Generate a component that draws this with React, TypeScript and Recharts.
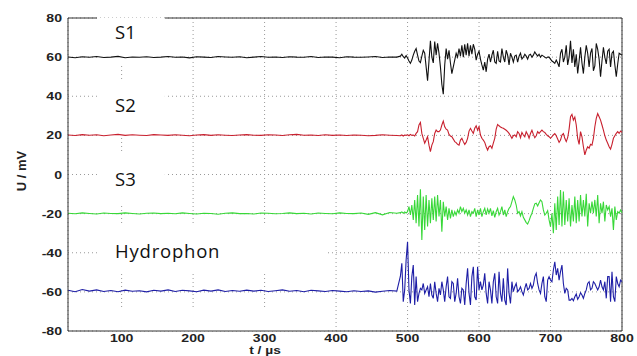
import {
  CartesianGrid,
  Line,
  LineChart,
  ReferenceArea,
  ReferenceLine,
  XAxis,
  YAxis,
} from "recharts";

// sampling grid: coarse before the onset, fine after it
const quietStart = 25;
const quietStep = 10;
const activeStart = 490;
const activeStep = 2;

const s1Quiet = [
  60.1, 59.7, 60.2, 59.9, 60.3, 59.8, 60.0, 60.4, 59.7, 60.1,
  59.9, 60.2, 59.8, 60.0, 60.3, 59.9, 60.1, 59.6, 60.2, 60.0,
  59.8, 60.3, 60.1, 59.9, 60.2, 59.7, 60.0, 60.3, 59.9, 60.1,
  59.8, 60.2, 60.0, 59.9, 60.3, 59.8, 60.1, 60.0, 59.7, 60.2,
  60.0, 59.9, 60.1, 60.3, 59.8, 60.1, 60.0,
];
const s2Quiet = [
  20.2, 19.9, 20.4, 20.1, 20.3, 19.8, 20.2, 20.5, 20.0, 20.3,
  20.1, 19.9, 20.4, 20.2, 20.0, 20.3, 20.1, 19.8, 20.2, 20.4,
  20.0, 20.3, 20.1, 19.9, 20.2, 20.4, 20.1, 20.0, 20.3, 20.2,
  19.9, 20.3, 20.5, 20.1, 20.2, 19.9, 20.3, 20.0, 20.2, 19.9,
  20.2, 20.1, 19.8, 20.0, 20.3, 20.1, 19.9,
];
const s3Quiet = [
  -19.8, -20.1, -19.6, -19.9, -20.2, -19.7, -19.9, -20.0, -19.6, -19.9,
  -20.2, -19.8, -19.7, -20.0, -19.8, -20.1, -19.6, -19.9, -20.2, -19.8,
  -19.9, -20.3, -19.8, -19.6, -20.0, -19.9, -20.2, -19.7, -19.8, -20.1,
  -19.9, -19.6, -20.0, -19.8, -20.2, -19.7, -19.9, -20.1, -19.6, -19.9,
  -20.0, -19.7, -20.4, -19.5, -20.6, -19.4, -19.8,
];
const hQuiet = [
  -59.2, -59.9, -58.8, -59.6, -59.0, -59.8, -59.3, -59.9, -59.1, -59.7,
  -59.4, -60.0, -59.2, -59.6, -59.0, -59.8, -59.2, -59.5, -59.9, -59.1,
  -59.6, -59.0, -59.8, -59.3, -59.7, -59.1, -59.6, -59.2, -59.8, -59.4,
  -59.0, -59.7, -59.3, -59.9, -59.2, -59.5, -59.8, -59.3, -59.6, -59.9,
  -59.4, -59.8, -59.5, -60.1, -59.7, -59.3, -59.6,
];

const s1Active = [
  60.5, 61.5, 60.2, 59.5, 60.8,
  59.5, 58.0, 56.8, 58.5, 61.0,
  63.0, 64.4, 61.0, 58.0, 57.2,
  60.5, 63.5, 62.0, 55.0, 48.0,
  58.0, 68.3, 60.0, 57.0, 68.0,
  61.0, 67.0, 62.0, 55.0, 46.0,
  41.0, 56.0, 64.4, 59.0, 63.5,
  57.0, 51.6, 55.0, 58.5, 62.0,
  60.0, 64.4, 60.5, 66.0, 60.0,
  66.6, 61.0, 67.0, 60.5, 66.0,
  61.5, 66.6, 64.0, 58.5, 61.5,
  63.0, 59.0, 56.0, 53.4, 57.5,
  52.5, 59.0, 61.5, 57.5, 61.0,
  63.5, 57.5, 56.8, 63.0, 58.0,
  57.5, 64.4, 60.0, 57.5, 63.5,
  61.0, 56.0, 62.0, 60.0, 57.5,
  60.5, 61.0, 57.5, 60.5, 62.0,
  59.0, 60.0, 61.5, 60.5, 59.0,
  61.0, 61.5, 60.0, 61.0, 62.7,
  61.5, 60.5, 61.5, 60.0, 61.0,
  60.5, 60.0, 59.5, 60.0, 60.0,
  59.0, 58.0, 57.5, 56.8, 58.5,
  57.0, 55.0, 62.0, 64.0, 57.5,
  60.0, 66.0, 56.0, 60.0, 68.3,
  57.0, 64.0, 55.0, 61.5, 51.6,
  58.0, 65.0, 57.0, 51.6, 60.0,
  66.0, 62.0, 55.0, 62.0, 64.4,
  53.0, 55.5, 67.0, 64.0, 59.0,
  50.0, 58.0, 65.0, 60.0, 56.5,
  63.0, 64.0, 55.0, 62.0, 63.0,
  56.0, 50.0, 56.5, 62.0, 61.5,
  61.0,
];
const s2Active = [
  19.8, 20.2, 19.7, 20.2, 20.0,
  20.3, 19.8, 20.5, 20.0, 20.2,
  19.7, 21.0, 21.9, 25.3, 26.6,
  21.0, 18.5, 16.0, 17.6, 19.3,
  15.0, 11.7, 15.0, 16.8, 21.0,
  22.7, 21.9, 21.9, 22.7, 25.3,
  27.3, 24.4, 23.2, 22.7, 20.5,
  19.7, 19.3, 18.1, 16.8, 16.3,
  15.4, 15.0, 17.6, 18.5, 16.8,
  15.4, 16.4, 18.5, 22.2, 23.6,
  22.2, 21.0, 23.6, 24.9, 22.7,
  24.4, 20.2, 18.5, 17.6, 16.4,
  14.2, 12.5, 14.2, 14.7, 13.4,
  16.0, 18.5, 23.2, 25.6, 24.9,
  24.3, 23.9, 23.6, 23.1, 22.6,
  21.9, 21.0, 19.8, 18.5, 19.8,
  20.2, 19.3, 21.9, 21.0, 18.8,
  21.5, 20.2, 19.3, 21.9, 20.5,
  18.5, 21.0, 22.6, 20.5, 18.8,
  19.8, 21.9, 21.0, 21.9, 22.7,
  21.9, 21.5, 20.5, 19.8, 19.3,
  18.5, 19.3, 20.2, 20.9, 19.8,
  18.1, 16.4, 17.6, 20.2, 20.9,
  18.5, 16.8, 18.8, 23.2, 29.5,
  30.7, 27.8, 29.4, 25.3, 18.5,
  15.4, 21.9, 19.3, 14.2, 10.0,
  12.5, 14.2, 13.4, 15.4, 15.0,
  18.5, 24.4, 28.7, 31.1, 29.5,
  27.8, 25.3, 22.7, 19.8, 17.6,
  16.0, 14.2, 13.0, 15.4, 18.5,
  19.8, 21.0, 21.9, 21.0, 22.2,
  21.5,
];
const s3Active = [
  -19.5, -19.1, -19.8, -19.1, -19.7,
  -19.0, -16.4, -20.7, -15.6, -23.2,
  -13.0, -24.9, -10.5, -26.6, -7.6,
  -33.5, -11.3, -28.3, -10.5, -26.6,
  -13.0, -24.9, -12.2, -23.2, -11.3,
  -24.0, -10.5, -21.5, -13.0, -29.2,
  -13.9, -21.5, -16.4, -23.2, -17.3,
  -22.4, -18.1, -21.5, -19.0, -20.7,
  -18.1, -19.8, -16.4, -19.0, -17.3,
  -19.8, -18.1, -20.7, -18.1, -21.5,
  -19.0, -19.8, -17.3, -21.5, -18.1,
  -20.7, -17.3, -21.5, -19.0, -17.3,
  -20.7, -17.6, -19.8, -17.3, -21.2,
  -18.5, -21.9, -19.0, -17.3, -20.7,
  -19.0, -16.4, -20.7, -18.1, -21.5,
  -19.0, -17.3, -16.4, -13.9, -11.3,
  -13.0, -15.6, -19.8, -19.0, -21.2,
  -19.0, -21.9, -23.2, -24.6, -25.3,
  -23.6, -21.5, -19.8, -17.3, -15.0,
  -14.7, -16.1, -14.4, -13.0, -13.9,
  -18.1, -20.7, -19.8, -18.5, -23.2,
  -26.6, -19.8, -30.0, -14.7, -28.3,
  -11.3, -25.8, -7.9, -26.6, -8.7,
  -25.8, -13.0, -24.0, -12.2, -26.6,
  -15.6, -24.0, -11.3, -24.9, -13.0,
  -24.0, -10.5, -21.5, -13.0, -21.5,
  -9.9, -26.6, -14.7, -19.8, -13.9,
  -19.8, -13.0, -21.5, -10.5, -24.9,
  -14.7, -19.8, -13.9, -24.0, -15.6,
  -18.1, -16.4, -21.5, -17.3, -28.3,
  -16.4, -23.2, -19.0, -19.8, -18.1,
  -19.5,
];
const hActive = [
  -52.0, -45.4, -65.0, -59.0, -43.7,
  -34.4, -59.0, -65.9, -52.2, -46.3,
  -66.7, -52.2, -65.0, -60.8, -58.2,
  -59.0, -55.7, -60.8, -59.0, -57.4,
  -62.5, -55.7, -61.6, -63.3, -54.8,
  -60.8, -65.0, -58.2, -61.6, -54.8,
  -59.0, -65.0, -57.4, -52.2, -62.5,
  -63.3, -54.8, -55.7, -65.0, -60.8,
  -53.1, -62.5, -65.9, -58.2, -59.0,
  -66.7, -55.7, -48.0, -60.8, -66.7,
  -52.2, -47.2, -62.5, -64.2, -47.2,
  -59.0, -54.8, -59.0, -56.5, -50.5,
  -60.8, -65.9, -54.8, -59.0, -65.9,
  -54.8, -50.5, -62.5, -65.9, -49.7,
  -60.8, -65.0, -53.1, -64.2, -66.7,
  -48.0, -60.8, -65.9, -54.8, -59.9,
  -57.4, -55.7, -59.9, -59.0, -57.4,
  -59.9, -61.6, -58.2, -55.7, -59.0,
  -58.2, -55.7, -58.2, -56.5, -52.2,
  -50.5, -55.7, -59.0, -60.8, -55.7,
  -52.2, -62.5, -65.0, -54.0, -52.2,
  -54.0, -54.8, -48.8, -44.6, -51.4,
  -48.0, -54.0, -49.7, -46.3, -55.7,
  -60.8, -58.2, -59.0, -64.2, -64.2,
  -63.3, -64.5, -62.5, -61.1, -63.8,
  -62.5, -60.4, -61.6, -63.3, -60.8,
  -59.0, -55.7, -54.8, -59.0, -58.2,
  -54.8, -55.7, -57.4, -59.0, -57.4,
  -54.0, -57.4, -59.0, -54.8, -63.3,
  -52.2, -52.2, -65.0, -49.7, -62.5,
  -65.0, -52.2, -55.7, -57.4, -54.0,
  -54.8,
];

const xTicks = [100, 200, 300, 400, 500, 600, 700, 800];
const yTicks = [-80, -60, -40, -20, 0, 20, 40, 60, 80];

const data = [
  ...s1Quiet.map((v, i) => ({
    t: quietStart + i * quietStep,
    s1: v,
    s2: s2Quiet[i],
    s3: s3Quiet[i],
    h: hQuiet[i],
  })),
  ...s1Active.map((v, i) => ({
    t: activeStart + i * activeStep,
    s1: v,
    s2: s2Active[i],
    s3: s3Active[i],
    h: hActive[i],
  })),
];

const tickFont = "'Liberation Sans', Arial, sans-serif";

const XTick = ({ x, y, payload }: any) => (
  <g transform={`translate(${x},${y + 3}) scale(1.28,1)`}>
    <text textAnchor="middle" fontFamily={tickFont} fontSize={11} fontWeight="bold" fill="#222">
      {payload.value}
    </text>
  </g>
);

const YTick = ({ x, y, payload }: any) => (
  <g transform={`translate(${x + 2},${y + 4}) scale(1.28,1)`}>
    <text textAnchor="end" fontFamily={tickFont} fontSize={11} fontWeight="bold" fill="#222">
      {payload.value}
    </text>
  </g>
);

const box = { fill: "#fff", fillOpacity: 1, stroke: "none", ifOverflow: "visible" as const, zIndex: 0 };

export default function App() {
  return (
    <div
      style={{
        position: "absolute",
        left: 0,
        top: 0,
        width: 637,
        height: 356,
        overflow: "hidden",
        background: "#fff",
      }}
    >
      <LineChart
        width={637}
        height={356}
        data={data}
        margin={{ top: 18, right: 15, bottom: 0, left: 28 }}
      >
        <CartesianGrid stroke="#999" strokeDasharray="1 3" />
        <XAxis
          dataKey="t"
          type="number"
          domain={[25, 800]}
          ticks={xTicks}
          height={25}
          tickLine={false}
          axisLine={{ stroke: "#333" }}
          tick={<XTick />}
        />
        <YAxis
          type="number"
          domain={[-80, 80]}
          ticks={yTicks}
          width={40}
          tickLine={false}
          axisLine={{ stroke: "#333" }}
          tick={<YTick />}
        />
        {/* white label backgrounds, under the traces */}
        <ReferenceArea x1={65.5} x2={160.5} y1={57} y2={80} {...box} />
        <ReferenceArea x1={65.5} x2={160.5} y1={19.2} y2={48.3} {...box} />
        <ReferenceArea x1={65.5} x2={160.5} y1={-14.6} y2={11} {...box} />
        <ReferenceArea x1={65.5} x2={388} y1={-50.9} y2={-26.3} {...box} />
        <ReferenceArea x1={65.5} x2={388} y1={-80} y2={-68.8} {...box} />
        <ReferenceLine segment={[{ x: 25, y: 80 }, { x: 65.5, y: 80 }]} stroke="#333" />
        <ReferenceLine segment={[{ x: 160.5, y: 80 }, { x: 800, y: 80 }]} stroke="#333" />
        <ReferenceLine x={800} stroke="#333" />
        <Line dataKey="s1" stroke="#111" strokeWidth={1.1} dot={false} isAnimationActive={false} />
        <Line dataKey="s2" stroke="#c8202e" strokeWidth={1.1} dot={false} isAnimationActive={false} />
        <Line dataKey="s3" stroke="#38d838" strokeWidth={1.1} dot={false} isAnimationActive={false} />
        <Line dataKey="h" stroke="#1e1ea6" strokeWidth={1.1} dot={false} isAnimationActive={false} />
      </LineChart>
      <svg
        width={637}
        height={356}
        style={{ position: "absolute", left: 0, top: 0, pointerEvents: "none" }}
      >
        <g fontFamily="'Open Sans', 'Noto Sans', sans-serif" fontSize={18.5} fill="#111">
          <text x={115} y={39}>S1</text>
          <text x={115} y={112}>S2</text>
          <text x={115} y={186}>S3</text>
          <text x={115} y={258} letterSpacing={0.8}>Hydrophon</text>
        </g>
        <g fontFamily={tickFont} fontWeight="bold" fontSize={13} fill="#222">
          <text transform="translate(26,171) rotate(-90)" textAnchor="middle">
            U / mV
          </text>
          <g transform="translate(265,353.5) scale(1.25,1)">
            <text textAnchor="middle" fontSize={11}>t / µs</text>
          </g>
        </g>
      </svg>
    </div>
  );
}
